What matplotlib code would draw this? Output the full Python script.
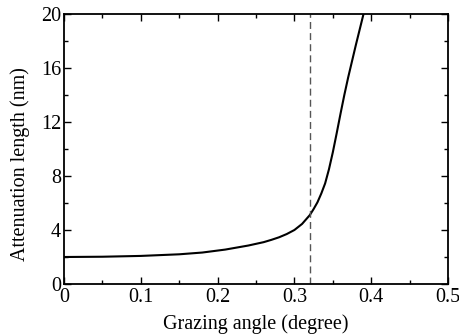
import matplotlib
matplotlib.use("Agg")
import matplotlib.pyplot as plt
from matplotlib.ticker import MultipleLocator, FuncFormatter

plt.rcParams['font.family'] = ['Liberation Serif', 'DejaVu Serif']

# values
angle = [0.0, 0.05, 0.10, 0.15, 0.18, 0.21, 0.24, 0.26, 0.27, 0.28, 0.29, 0.30,
         0.31, 0.32, 0.325, 0.33, 0.335, 0.34, 0.345, 0.35, 0.355, 0.36,
         0.365, 0.37, 0.38, 0.39, 0.40]
atten = [2.0, 2.02, 2.08, 2.2, 2.33, 2.55, 2.85, 3.1, 3.27, 3.46, 3.7, 4.0,
         4.45, 5.1, 5.55, 6.05, 6.7, 7.45, 8.5, 9.75, 11.15, 12.6,
         14.0, 15.3, 17.7, 20.0, 22.2]
critical_angle = 0.32

fig = plt.figure(figsize=(4.6, 3.36), dpi=100)
ax = fig.add_axes([64/460, 1 - 284/336, (448-64)/460, (284-14)/336])

ax.plot(angle, atten, color='black', lw=1.5, solid_joinstyle='round')
ax.axvline(critical_angle, color='#555555', lw=1.0, ls=(0, (5, 3)))

ax.set_xlim(0, 0.5)
ax.set_ylim(0, 20)
ax.xaxis.set_major_locator(MultipleLocator(0.1))
ax.xaxis.set_minor_locator(MultipleLocator(0.05))
ax.yaxis.set_major_locator(MultipleLocator(4))
ax.yaxis.set_minor_locator(MultipleLocator(2))
ax.xaxis.set_major_formatter(FuncFormatter(lambda v, p: '0' if abs(v) < 1e-9 else f'{v:.1f}'))

ax.tick_params(which='both', direction='in', top=True, right=True, labelsize=14.5)
ax.tick_params(axis='x', pad=3)
ax.tick_params(axis='y', pad=2)
ax.tick_params(which='major', length=5, width=1)
ax.tick_params(which='minor', length=3, width=1)
for s in ax.spines.values():
    s.set_linewidth(1.3)

ax.set_xlabel('Grazing angle (degree)', fontsize=14.5, labelpad=5)
ax.set_ylabel('Attenuation length (nm)', fontsize=14.5)
ax.yaxis.set_label_coords(-0.088, 0.445)

fig.savefig('out.png', dpi=100)
